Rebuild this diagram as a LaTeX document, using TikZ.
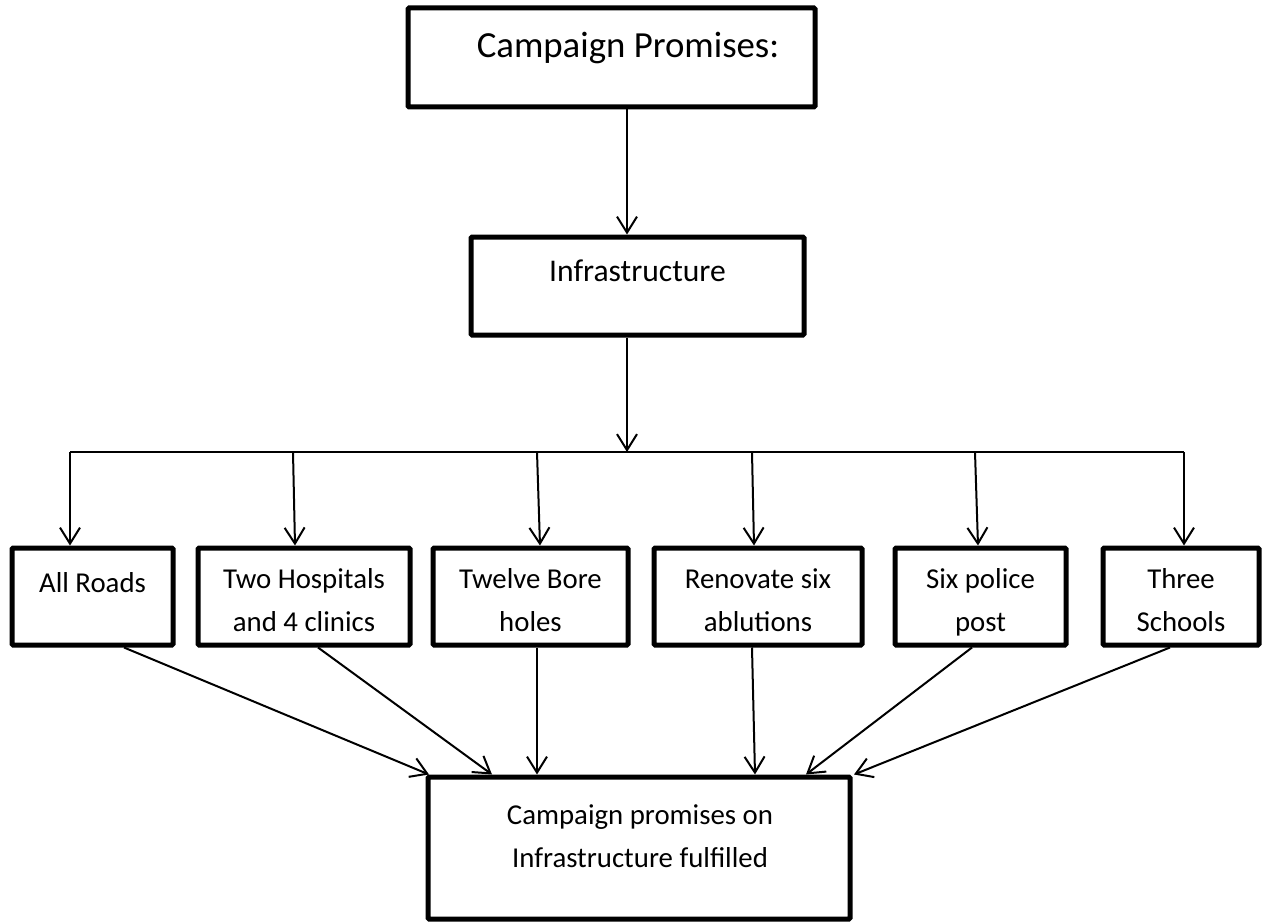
\documentclass[tikz,border=0pt]{standalone}
\usepackage{fontspec}
\setmainfont{Carlito}
\usetikzlibrary{arrows.meta,fit}
\begin{document}
\begin{tikzpicture}[x=0.75pt,y=-0.75pt,
  box/.style={draw,line width=3.75pt,inner sep=0pt,rounded corners=0.8pt},
  arr/.style={line width=1.5pt,-{Straight Barb[length=12pt,width=15pt,line width=1.5pt]}},
  conn/.style={line width=1.5pt},
  txt/.style={inner sep=0pt,anchor=base,align=center,font=\fontsize{21.6}{32}\selectfont}]
\useasboundingbox (0,0) rectangle (1265,924);
% boxes
\node[box,fit={(408,8) (815,107)}] (title) {};
\node[box,fit={(471,237) (804,335)}] (infra) {};
\node[box,fit={(12,548) (173,645)}] (roads) {};
\node[box,fit={(198,548) (410,645)}] (hosp) {};
\node[box,fit={(433,548) (628,645)}] (bore) {};
\node[box,fit={(654,548) (862,645)}] (abl) {};
\node[box,fit={(895,548) (1066,645)}] (police) {};
\node[box,fit={(1103,548) (1259,645)}] (schools) {};
\node[box,fit={(428,777) (850,919)}] (final) {};
% texts (base anchor = baseline of the last line)
\node[txt,font=\fontsize{27.6}{34}\selectfont] (ttitle) at (628,58) {Campaign Promises:};
\node[txt,font=\fontsize{23.7}{32}\selectfont] (tinfra) at (637.5,281) {Infrastructure};
\node[txt] (troads) at (92.5,592) {All Roads};
\node[txt] (thosp) at (304,631) {Two Hospitals\\and 4 clinics};
\node[txt] (tbore) at (530.5,631) {Twelve Bore\\holes};
\node[txt] (tabl) at (758,631) {Renovate six\\ablutions};
\node[txt] (tpolice) at (980.5,631) {Six police\\post};
\node[txt] (tschools) at (1181,631) {Three\\Schools};
\node[txt] (tfinal) at (640,867) {Campaign promises on\\Infrastructure fulfilled};
% bus coordinates
\coordinate (busc) at (627,452);
\coordinate (d1) at (70,452);
\coordinate (d2) at (293,452);
\coordinate (d3) at (537,452);
\coordinate (d4) at (752,452);
\coordinate (d5) at (975,452);
\coordinate (d6) at (1184,452);
% connectors
\draw[arr] (title.south -| busc) -- (infra.north -| busc);
\draw[arr] (infra.south -| busc) -- (busc);
\draw[conn] (d1) -- (d6);
\draw[arr] (d1) -- (roads.north -| 70,0);
\draw[arr] (d2) -- (hosp.north -| 295,0);
\draw[arr] (d3) -- (bore.north -| 540,0);
\draw[arr] (d4) -- (abl.north -| 754,0);
\draw[arr] (d5) -- (police.north -| 978,0);
\draw[arr] (d6) -- (schools.north -| 1184,0);
\draw[arr] (roads.south -| 124,0) -- (final.north -| 429,0);
\draw[arr] (hosp.south -| 318,0) -- (final.north -| 492,0);
\draw[arr] (bore.south -| 537,0) -- (final.north -| 537,0);
\draw[arr] (abl.south -| 752,0) -- (final.north -| 755,0);
\draw[arr] (police.south -| 972,0) -- (final.north -| 806,0);
\draw[arr] (schools.south -| 1170,0) -- (final.north -| 854,0);
\end{tikzpicture}
\end{document}
